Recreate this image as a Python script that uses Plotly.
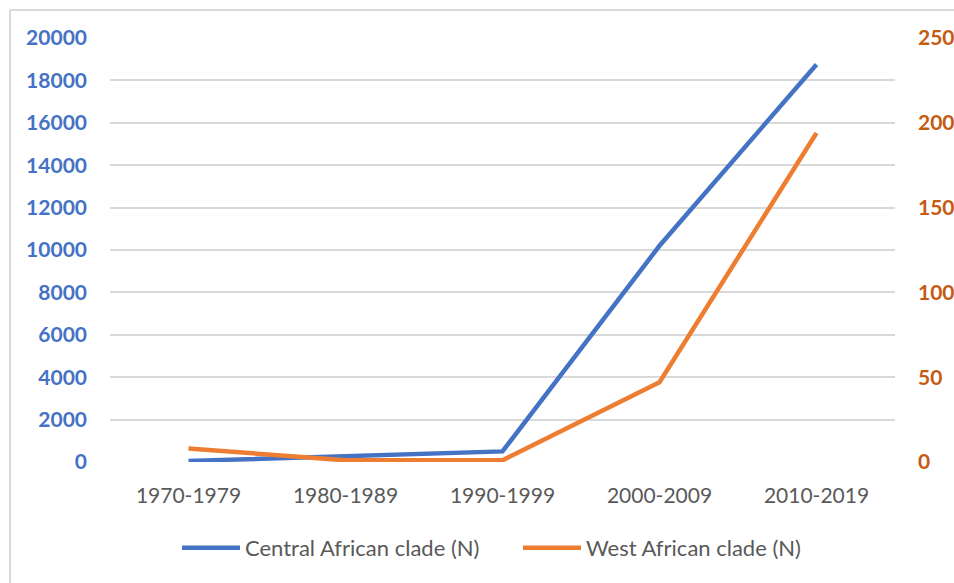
import plotly.graph_objects as go

decades = ["1970-1979", "1980-1989", "1990-1999", "2000-2009", "2010-2019"]
central_african = [50, 250, 500, 10200, 18750]
west_african = [8, 1, 1, 47, 194]

left_ticks = list(range(0, 20001, 2000))
right_ticks = list(range(0, 251, 50))

BLUE = "#4472C4"
ORANGE = "#ED7D31"
FONT = "Lato"

fig = go.Figure()
fig.add_trace(go.Scatter(x=decades, y=central_african, name="Central African clade (N)",
                         mode="lines", line=dict(color=BLUE, width=4.5), yaxis="y"))
fig.add_trace(go.Scatter(x=decades, y=west_african, name="West African clade (N)",
                         mode="lines", line=dict(color=ORANGE, width=4.5), yaxis="y2"))

W, H = 954, 583
L, R, T, B = 110, 59, 38, 121
pw, ph = W - L - R, H - T - B

def px_x(px):
    return (px - L) / pw

def px_y(py):
    return (H - B - py) / ph

fig.update_layout(
    width=W, height=H,
    margin=dict(l=L, r=R, t=T, b=B, autoexpand=False),
    paper_bgcolor="white", plot_bgcolor="white",
    font=dict(family=FONT, size=21, color="#595959"),
    xaxis=dict(type="category", range=[-0.5, len(decades) - 0.5],
               showgrid=False, zeroline=False, showline=False,
               ticks="", tickfont=dict(family=FONT, size=21, color="#595959"),
               ticklabelstandoff=19),
    yaxis=dict(range=[0, 20000], tickvals=left_ticks, ticktext=[str(v) for v in left_ticks],
               showgrid=True, gridcolor="#D9D9D9", gridwidth=1.5, zeroline=False,
               showline=False, ticks="",
               tickfont=dict(family=FONT, size=21, color=BLUE, weight="bold"),
               ticklabelstandoff=22),
    yaxis2=dict(range=[0, 250], tickvals=right_ticks, ticktext=[str(v) for v in right_ticks],
                overlaying="y", side="right", showgrid=False, zeroline=False,
                showline=False, ticks="",
                tickfont=dict(family=FONT, size=21, color="#C55A11", weight="bold"),
                ticklabelstandoff=22),
    showlegend=True,
    legend=dict(orientation="h", x=px_x(518), xanchor="center", y=px_y(548), yanchor="middle",
                font=dict(family=FONT, size=22, color="#595959"),
                itemwidth=58, entrywidth=268, entrywidthmode="pixels",
                bgcolor="rgba(0,0,0,0)"),
    shapes=[
        dict(type="line", xref="paper", yref="y", x0=0, x1=1, y0=0, y1=0,
             line=dict(color="white", width=3), layer="below"),
        dict(type="line", xref="paper", yref="paper", x0=px_x(10), x1=px_x(10),
             y0=px_y(10), y1=px_y(600), line=dict(color="#D9D9D9", width=2)),
        dict(type="line", xref="paper", yref="paper", x0=px_x(10), x1=px_x(970),
             y0=px_y(10), y1=px_y(10), line=dict(color="#D9D9D9", width=2)),
    ],
)

fig.write_html("out.html", config={"displayModeBar": False},
               post_script="document.body.style.margin='0';")
